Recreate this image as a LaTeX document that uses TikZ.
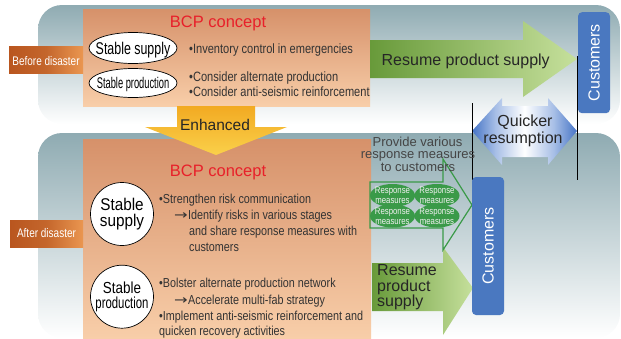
\documentclass[tikz,border=0pt]{standalone}
\usepackage{fontspec}
\usepackage{graphicx}
\setmainfont{Liberation Sans}
\newfontfamily\arrowfont{DejaVu Sans}
\usetikzlibrary{shapes.geometric}
\definecolor{panel}{HTML}{8FABB2}
\definecolor{orangetop}{HTML}{D6916A}
\definecolor{orangebot}{HTML}{F8CEA9}
\definecolor{bcpred}{HTML}{E8202A}
\definecolor{labdark}{HTML}{B9561F}
\definecolor{labmid}{HTML}{C4662C}
\definecolor{lablight}{HTML}{EA9650}
\definecolor{greendark}{HTML}{689A3A}
\definecolor{greenlight}{HTML}{C6E09C}
\definecolor{custblue}{HTML}{4A78C0}
\definecolor{respgreen}{HTML}{3A9A48}
\definecolor{yel1}{HTML}{F2AA22}
\definecolor{yel2}{HTML}{FAD04A}
\definecolor{qblue}{HTML}{4674C6}
\definecolor{qlight}{HTML}{A6BEE6}
\definecolor{textgray}{HTML}{333333}
\definecolor{provgray}{HTML}{454545}
\pgfdeclarehorizontalshading{qshade}{100bp}{color(0bp)=(qblue); color(25bp)=(qblue); color(36bp)=(qlight); color(50bp)=(white); color(64bp)=(qlight); color(75bp)=(qblue); color(100bp)=(qblue)}
\newcommand{\cx}[2]{\scalebox{#1}[1]{#2}}
\begin{document}
\begin{tikzpicture}[x=1pt,y=-1pt,
  txt/.style={inner sep=0pt, anchor=base west, text=textgray, font=\fontsize{13}{15}\selectfont},
  arrtxt/.style={inner sep=0pt, anchor=base west, text=textgray, font=\arrowfont\fontsize{13}{15}\selectfont},
  panelbox/.style={rounded corners=24pt, top color=panel, bottom color=white, inner sep=0pt},
  bcpbox/.style={inner sep=0pt, top color=orangetop, bottom color=orangebot},
  tabbox/.style={inner sep=0pt, left color=labdark, right color=lablight, middle color=labmid},
  tabtext/.style={inner sep=0pt, anchor=base, text=white, font=\fontsize{12.5}{14}\selectfont},
  bcptitle/.style={inner sep=0pt, anchor=base, text=bcpred, font=\fontsize{16.5}{18}\selectfont},
  oval/.style={ellipse, draw=black, fill=white, line width=0.7pt, inner sep=0pt},
  ring/.style={circle, draw=black, fill=white, line width=0.7pt, inner sep=0pt, minimum size=63pt, align=center},
  cust/.style={fill=custblue, rounded corners=4pt, text=white, rotate=90, inner sep=0pt, font=\fontsize{16}{18}\selectfont},
  respoval/.style={ellipse, fill=respgreen, inner sep=0pt, minimum width=45pt, minimum height=23pt},
  resptext/.style={inner sep=0pt, align=center, text=white!94!black, font=\fontsize{9.5}{10}\selectfont},
  bigtxt/.style={inner sep=0pt, text=black!85, font=\fontsize{16}{19}\selectfont},
  vline/.style={draw=black, line width=0.8pt}
]
\useasboundingbox (0,0) rectangle (621,338);

% panels
\node[panelbox, minimum width=582pt, minimum height=119pt] (toppanel) at (329,64.5) {};
\node[panelbox, minimum width=582pt, minimum height=205pt] (botpanel) at (329,235.5) {};

% orange boxes
\node[bcpbox, minimum width=287pt, minimum height=97pt] (bcp1) at (226.5,57.5) {};
\node[bcpbox, minimum width=288pt, minimum height=199pt] (bcp2) at (227,238.5) {};

% tabs
\node[tabbox, minimum width=74pt, minimum height=27pt] (before) at (46,59.5) {};
\node[tabtext] (beforet) at (46,65) {\cx{0.8}{Before disaster}};
\node[tabbox, minimum width=73pt, minimum height=27pt] (after) at (46.5,233.5) {};
\node[tabtext] (aftert) at (46.5,237.3) {\cx{0.8}{After disaster}};

% titles
\node[bcptitle] (title1) at (218,27.3) {BCP concept};
\node[bcptitle] (title2) at (218,176.7) {BCP concept};

% top ovals
\node[oval, minimum width=88pt, minimum height=31pt] (oval1) at (133,48) {};
\node[inner sep=0pt, anchor=base, font=\fontsize{17}{19}\selectfont] (oval1t) at (133,54) {\cx{0.73}{Stable supply}};
\node[oval, minimum width=88pt, minimum height=29pt] (oval2) at (133,83) {};
\node[inner sep=0pt, anchor=base, font=\fontsize{15.5}{17}\selectfont] (oval2t) at (133,88.5) {\cx{0.6}{Stable production}};

% top bullets
\node[txt, font=\fontsize{13.5}{15}\selectfont] (b1) at (189,53.5) {\cx{0.82}{\textbullet Inventory control in emergencies}};
\node[txt, font=\fontsize{13.5}{15}\selectfont] (b2) at (189,81) {\cx{0.82}{\textbullet Consider alternate production}};
\node[txt, font=\fontsize{13.5}{15}\selectfont] (b3) at (189,96) {\cx{0.82}{\textbullet Consider anti-seismic reinforcement}};

% bottom circles
\node[ring, font=\fontsize{17}{15.5}\selectfont] (ring1) at (122,214) {\cx{0.9}{Stable}\\\cx{0.9}{supply}};
\node[ring, font=\fontsize{16}{15}\selectfont] (ring2) at (122,296.7) {\cx{0.84}{Stable}\\\cx{0.71}{production}};

% bottom bullets
\node[txt] (c1) at (159,203.5) {\cx{0.83}{\textbullet Strengthen risk communication}};
\node[arrtxt] (c2a) at (174,219.5) {\cx{1.25}{→}};
\node[txt] (c2) at (188,219.5) {\cx{0.83}{Identify risks in various stages}};
\node[txt] (c3) at (189,235.5) {\cx{0.83}{and share response measures with}};
\node[txt] (c4) at (189,251.5) {\cx{0.83}{customers}};
\node[txt] (d1) at (159,287.3) {\cx{0.83}{\textbullet Bolster alternate production network}};
\node[arrtxt] (d2a) at (174,304) {\cx{1.25}{→}};
\node[txt] (d2) at (188,304) {\cx{0.83}{Accelerate multi-fab strategy}};
\node[txt] (d3) at (159,320) {\cx{0.83}{\textbullet Implement anti-seismic reinforcement and}};
\node[txt] (d4) at (159,335.5) {\cx{0.83}{quicken recovery activities}};

% Enhanced arrow
\shade[top color=yel1, bottom color=yel2]
  (177,106) -- (255,106) -- (255,127) -- (287,127) -- (216,155) -- (145,127) -- (177,127) -- cycle;
\node[inner sep=0pt, anchor=base, text=black!85, font=\fontsize{15.5}{17}\selectfont] (enh) at (215,130.7) {Enhanced};

% top green arrow
\shade[left color=greendark, right color=greenlight]
  (370,40) -- (523,40) -- (523,21) -- (577,59) -- (523,97) -- (523,78) -- (370,78) -- cycle;
\node[bigtxt, anchor=base] (rps1) at (465.7,65) {Resume product supply};

% customers top
\node[cust, minimum width=101pt, minimum height=32pt] (cust1) at (594,62.7) {Customers};

% quicker resumption
\shade[shading=qshade]
  (472,131) -- (502,98) -- (502,106) -- (548,106) -- (548,98) -- (577,131) -- (548,165) -- (548,157) -- (502,157) -- (502,165) -- cycle;
\node[bigtxt, anchor=base] (quick1) at (525,126) {Quicker};
\node[bigtxt, anchor=base] (quick2) at (523,143.3) {resumption};

% black vertical lines
\coordinate (la) at (472,103);
\coordinate (lb) at (472,180);
\coordinate (lc) at (577,56);
\coordinate (ld) at (577,180);
\draw[vline] (la) -- (lb);
\draw[vline] (lc) -- (ld);

% bottom green arrow
\shade[left color=greendark, right color=greenlight]
  (372,263) -- (443,263) -- (443,247) -- (473,288) -- (443,335) -- (443,311) -- (372,311) -- cycle;
\node[bigtxt, anchor=base west] (rp1) at (377,275) {Resume};
\node[bigtxt, anchor=base west] (rp2) at (377,291) {product};
\node[bigtxt, anchor=base west] (rp3) at (377,306.7) {supply};

% response measures arrow
\draw[respgreen, line width=1.2pt]
  (370,182) -- (443,182) -- (443,159) -- (472,205) -- (443,250) -- (443,228) -- (370,228) -- cycle;
\node[respoval] (r1) at (392.5,195.5) {};
\node[respoval] (r2) at (437,195.5) {};
\node[respoval] (r3) at (392.5,216) {};
\node[respoval] (r4) at (437,216) {};
\node[resptext] (r1t) at (r1) {\cx{0.82}{Response}\\\cx{0.82}{measures}};
\node[resptext] (r2t) at (r2) {\cx{0.82}{Response}\\\cx{0.82}{measures}};
\node[resptext] (r3t) at (r3) {\cx{0.82}{Response}\\\cx{0.82}{measures}};
\node[resptext] (r4t) at (r4) {\cx{0.82}{Response}\\\cx{0.82}{measures}};

% provide text
\node[inner sep=0pt, anchor=base, text=provgray, font=\fontsize{13}{15}\selectfont] (p1) at (417.5,146) {Provide various};
\node[inner sep=0pt, anchor=base, text=provgray, font=\fontsize{13}{15}\selectfont] (p2) at (418,158.3) {response measures};
\node[inner sep=0pt, anchor=base, text=provgray, font=\fontsize{13}{15}\selectfont] (p3) at (418,171.7) {to customers};

% customers bottom
\node[cust, minimum width=138pt, minimum height=32pt] (cust2) at (488,246) {Customers};
\end{tikzpicture}
\end{document}
